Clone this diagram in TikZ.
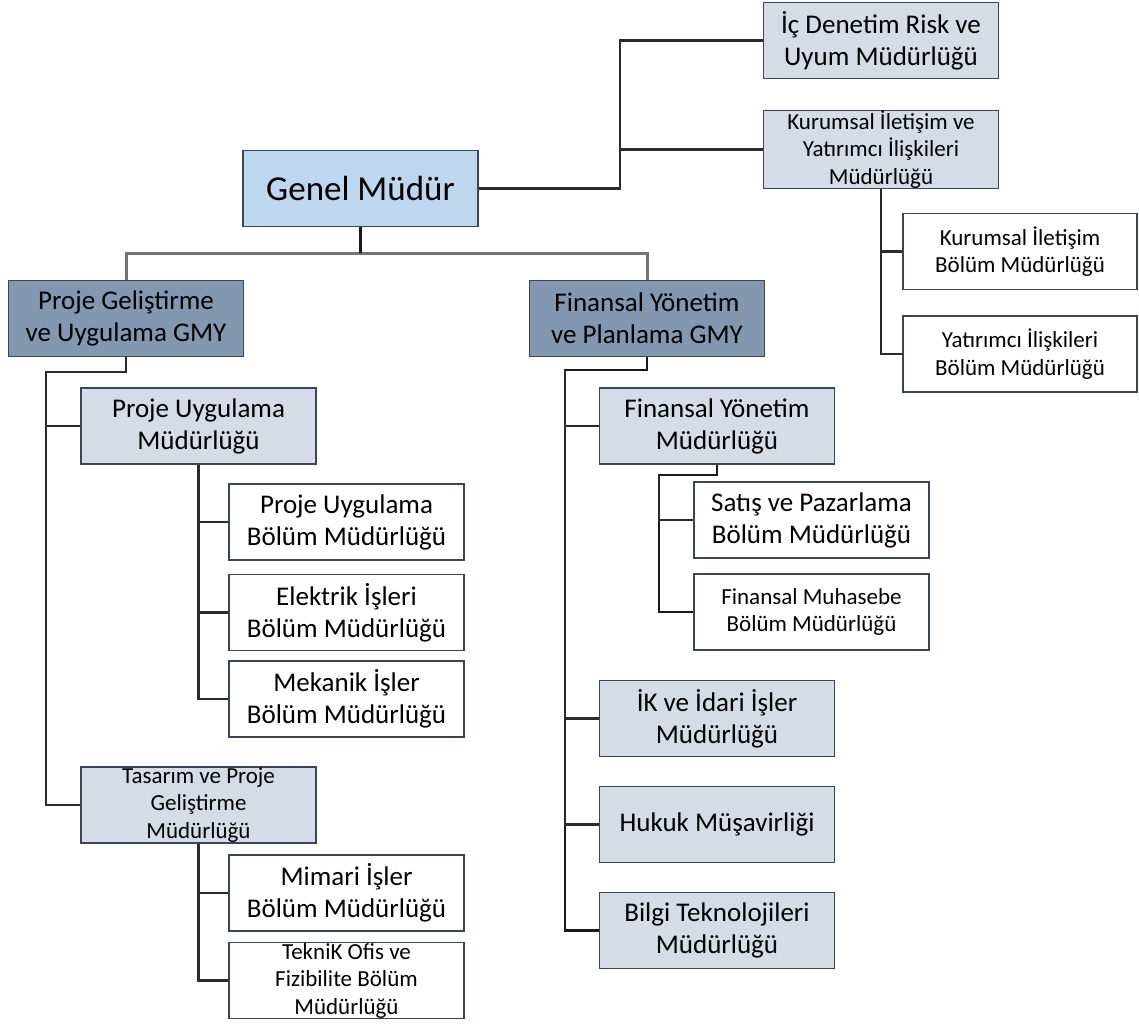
\documentclass[tikz,border=0pt]{standalone}
\usepackage{fontspec}
\setmainfont{Carlito}
\begin{document}
\begin{tikzpicture}[x=1pt,y=-1pt,
  box/.style={draw=bordc,line width=1.6pt,inner sep=0pt,align=center,minimum width=235pt,minimum height=76pt,text=black},
  bigtxt/.style={font=\fontsize{27}{32}\selectfont},
  smalltxt/.style={font=\fontsize{23}{27.5}\selectfont},
  gmbox/.style={box,fill=gmfill,font=\fontsize{35}{42}\selectfont},
  gmybox/.style={box,fill=gmyfill,bigtxt},
  mdbox/.style={box,fill=mdfill},
  bbox/.style={box,fill=white},
  conn/.style={draw=connc,line width=2.2pt},
  thickconn/.style={draw=black!90,line width=2.8pt},
  barconn/.style={draw=black!55,line width=3pt}
]
\definecolor{bordc}{HTML}{3A4656}
\definecolor{gmfill}{HTML}{BDD7EE}
\definecolor{gmyfill}{HTML}{8497B0}
\definecolor{mdfill}{HTML}{D6DCE5}
\definecolor{connc}{HTML}{2B2B2B}
\fill[white] (0,0) rectangle (1139,1024);
\useasboundingbox (0,0) rectangle (1139,1024);

% nodes
\node[gmbox] (gm) at (360.5,188.5) {Genel Müdür};
\node[mdbox,bigtxt] (ic) at (881,40.5) {İç Denetim Risk ve\\Uyum Müdürlüğü};
\node[mdbox,smalltxt] (kiy) at (881,149.5) {Kurumsal İletişim ve\\Yatırımcı İlişkileri\\Müdürlüğü};
\node[bbox,smalltxt,minimum width=234pt] (kib) at (1020,251.5) {Kurumsal İletişim\\Bölüm Müdürlüğü};
\node[bbox,smalltxt,minimum width=234pt] (yib) at (1020,354) {Yatırımcı İlişkileri\\Bölüm Müdürlüğü};

\node[gmybox] (pg) at (126,318.5) {Proje Geliştirme\\ve Uygulama GMY};
\node[gmybox] (fg) at (647,318.5) {Finansal Yönetim\\ve Planlama GMY};

\node[mdbox,bigtxt] (pu) at (198.5,426) {Proje Uygulama\\Müdürlüğü};
\node[bbox,bigtxt] (pub) at (346.5,522) {Proje Uygulama\\Bölüm Müdürlüğü};
\node[bbox,bigtxt] (el) at (346.5,612.5) {Elektrik İşleri\\Bölüm Müdürlüğü};
\node[bbox,bigtxt] (mek) at (346.5,699) {Mekanik İşler\\Bölüm Müdürlüğü};
\node[mdbox,smalltxt] (tas) at (198.5,805) {Tasarım ve Proje\\Geliştirme\\Müdürlüğü};
\node[bbox,bigtxt] (mim) at (346.5,893) {Mimari İşler\\Bölüm Müdürlüğü};
\node[bbox,smalltxt] (tek) at (346.5,980.5) {TekniK Ofis ve\\Fizibilite Bölüm\\Müdürlüğü};

\node[mdbox,bigtxt] (fy) at (717,426) {Finansal Yönetim\\Müdürlüğü};
\node[bbox,bigtxt] (sat) at (811.5,520) {Satış ve Pazarlama\\Bölüm Müdürlüğü};
\node[bbox,smalltxt] (fm) at (811.5,612) {Finansal Muhasebe\\Bölüm Müdürlüğü};
\node[mdbox,bigtxt] (ik) at (717,718.5) {İK ve İdari İşler\\Müdürlüğü};
\node[mdbox,bigtxt] (hk) at (717,824.5) {Hukuk Müşavirliği};
\node[mdbox,bigtxt] (bt) at (717,930.5) {Bilgi Teknolojileri\\Müdürlüğü};

% junctions
\coordinate (j1) at (620,188.5);
\coordinate (bar) at (360.5,253);
\coordinate (pgj) at (46,372);
\coordinate (fgj) at (565,370);
\coordinate (fyj) at (659,475);

% connectors
\draw[conn] (gm.east) -- (j1) |- (ic.west);
\draw[conn] (j1) |- (kiy.west);
\draw[conn] (kiy.south) |- (kib.west);
\draw[conn] (kiy.south) |- (yib.west);

\draw[barconn] (pg.north) |- (bar) -| (fg.north);
\draw[thickconn] (gm.south) -- (bar);

\draw[conn] (pg.south) |- (pgj) |- (tas.west);
\draw[conn] (pgj) |- (pu.west);
\draw[conn] (pu.south) |- (pub.west);
\draw[conn] (pu.south) |- (el.west);
\draw[conn] (pu.south) |- (mek.west);
\draw[conn] (tas.south) |- (mim.west);
\draw[conn] (tas.south) |- (tek.west);

\draw[thickconn] (fg.south) |- (fgj) |- (bt.west);
\draw[conn] (fgj) |- (fy.west);
\draw[conn] (fgj) |- (ik.west);
\draw[conn] (fgj) |- (hk.west);
\draw[thickconn] (fy.south) |- (fyj) |- (fm.west);
\draw[conn] (fyj) |- (sat.west);
\end{tikzpicture}
\end{document}
